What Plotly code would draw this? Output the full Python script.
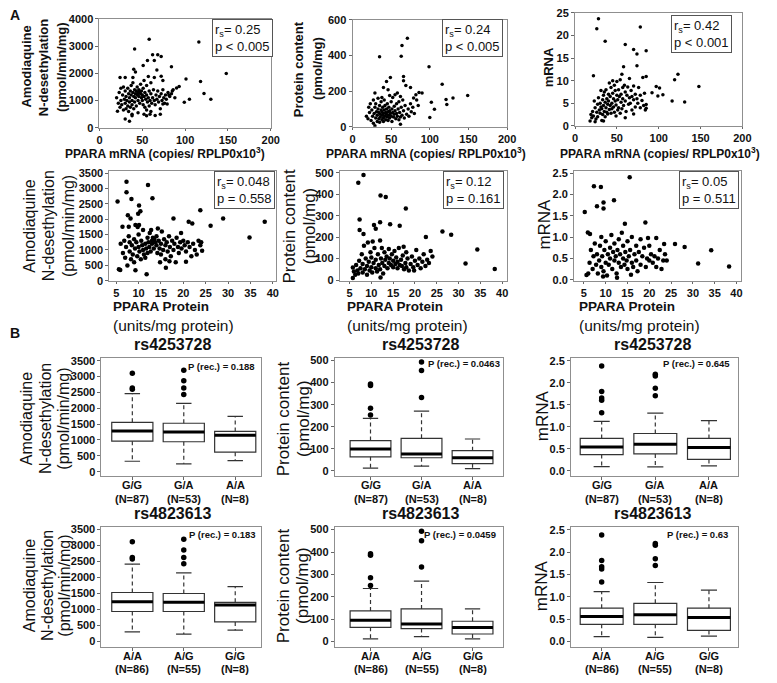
import plotly.graph_objects as go

# ------------------------------------------------------------------ data
# Panel A, row 1: y vs PPARA mRNA (copies/RPLP0 x10^3)
aq_vs_mrna = [(58,3250),(41,2890),(116,3150),(148,1990),(62,2680),(64,2470),(68,2680),(72,2620),(84,2240),(56,2470),
    (51,2290),(67,2120),(40,2150),(42,2050),(39,1850),(24,1850),(30,1850),(57,1880),(64,1850),(72,1890),(74,1740),
    (52,1740),(118,1700),(122,1260),(130,1050),(99,940),(105,1050),(101,1790),(93,1520),(90,1460),(85,1350),(81,1200),
    (79,870),(74,870),(71,500),(21,610),(30,320),(35,240),(38,440),(52,500),(55,440),(59,500),
    (20,1100),(22,900),(23,1300),(24,750),(25,1450),(25,1000),(26,850),(27,1200),(28,650),(28,1500),(29,1050),(30,900),
    (30,1350),(31,700),(31,1150),(32,1000),(33,800),(33,1450),(34,1250),(34,600),(35,1100),(35,950),(36,1350),(36,750),
    (37,1200),(37,1550),(38,1000),(38,850),(39,1300),(39,1650),(40,1150),(40,700),(41,1400),(41,950),(42,1250),(42,1100),
    (43,1350),(43,800),(44,1200),(44,1500),(45,1300),(45,1000),(45,1250),(46,1150),(46,1400),(47,1300),(47,900),(48,1250),
    (48,1600),(49,1100),(49,1350),(50,1000),(50,1200),(51,850),(51,1450),(52,1150),(53,1300),(53,750),(54,1050),(55,1200),
    (55,1550),(56,950),(57,1100),(58,1350),(58,800),(59,1000),(60,1250),(60,1650),(61,900),(62,1100),(63,1400),(64,1000),
    (65,850),(66,1200),(67,1050),(68,1350),(69,950),(70,1150),(71,700),(72,1250),(73,1000),(74,1400),(75,1100),(76,900),
    (77,1200),(78,1050),(80,1300),(82,1150),(84,1250),(86,1400),(88,1100),(60,600),(45,550),(38,500),(65,450),(55,650)]

prot_vs_mrna = [(71,497),(64,456),(63,396),(35,392),(99,337),(116,239),(149,175),(130,162),(121,153),(122,125),(102,138),
    (106,98),(100,52),(86,193),(90,190),(82,180),(79,162),(75,221),(66,282),(66,258),(69,232),(49,276),(44,254),(40,221),
    (46,208),(29,190),(58,190),(62,15),(29,6),
    (18,60),(20,45),(21,110),(22,80),(23,130),(24,35),(25,95),(26,60),(27,150),(27,20),(28,75),(29,110),(30,50),(30,130),
    (31,85),(32,30),(32,65),(33,100),(33,160),(34,45),(34,80),(35,120),(35,25),(36,70),(36,55),(37,95),(37,140),(38,40),
    (38,85),(39,65),(39,110),(40,75),(40,50),(40,30),(41,95),(41,150),(42,60),(42,120),(43,80),(43,40),(44,100),(44,70),
    (45,55),(45,130),(46,85),(46,35),(47,65),(47,110),(48,90),(48,50),(49,75),(50,140),(50,60),(51,100),(51,30),(52,80),
    (52,165),(53,55),(54,115),(54,70),(55,90),(56,45),(57,130),(57,75),(58,60),(59,100),(60,40),(60,140),(61,80),(62,55),
    (63,110),(64,65),(65,150),(66,90),(67,50),(68,120),(70,70),(72,100),(73,60),(75,130),(76,85),(78,110),(80,75),(83,150),
    (85,120),(62,170),(55,180),(48,175),(38,165)]

cyp_mrna_vs_mrna = [(28,23.7),(26,21.5),(78,21.9),(36,18.7),(60,18.0),(70,16.9),(74,15.9),(85,16.6),(74,13.3),(58,13.1),
    (22,11.1),(56,11.4),(123,11.4),(119,10.2),(85,10.9),(81,10.7),(148,8.7),(97,8.7),(101,8.4),(92,7.3),(105,6.9),(99,6.6),
    (116,5.5),(131,5.3),(85,4.7),(85,3.9),(70,2.6),(60,1.8),(18,1.1),(24,0.9),(34,1.1),
    (19,2.5),(20,1.8),(21,3.2),(22,2.2),(23,5.5),(24,4.0),(25,1.5),(26,3.0),(27,4.8),(27,2.0),(28,6.2),(29,3.5),(30,2.8),
    (30,5.0),(31,7.8),(31,4.2),(32,1.2),(32,3.8),(33,5.8),(33,2.5),(34,4.5),(34,6.8),(35,3.2),(35,7.5),(36,2.0),(36,5.2),
    (37,4.0),(37,8.0),(38,3.0),(38,6.0),(39,4.8),(39,2.6),(40,7.0),(40,5.5),(41,3.6),(41,9.5),(42,4.5),(42,6.5),(43,2.8),
    (43,8.5),(44,5.0),(44,3.8),(45,7.2),(45,10.0),(46,4.2),(46,6.0),(47,3.0),(47,9.0),(48,5.5),(48,7.8),(49,2.2),(49,4.6),
    (50,6.8),(50,9.8),(51,3.5),(51,5.8),(52,8.0),(52,4.0),(53,6.5),(54,2.8),(54,10.2),(55,5.2),(55,7.0),(56,3.8),(57,8.5),
    (57,6.0),(58,4.5),(59,9.0),(60,5.5),(60,7.5),(61,3.2),(62,6.8),(63,8.6),(64,4.8),(65,6.2),(65,10.5),(66,5.0),(67,7.8),
    (68,3.5),(68,6.5),(70,5.8),(70,8.8),(72,4.2),(72,7.0),(74,6.0),(75,5.0),(76,8.5),(78,4.0),(78,6.8),(80,5.6),(82,4.5),
    (83,7.2),(84,3.5)]

# Panel A, row 2: y vs PPARA protein (units/mg protein)
aq_vs_protein = [(7.3,3213),(5.3,2575),(7.3,2873),(12.1,3107),(13.1,2681),(8.4,2660),(10.1,2447),(10.4,2256),(9.9,2181),
    (7.6,2128),(8.2,2022),(9.3,1809),(10.1,1809),(6.4,1756),(7.8,1756),(17.8,2022),(21.2,1915),(22.0,1862),(23.8,2288),
    (26.1,1787),(28.9,2022),(31.4,2447),(34.8,1404),(38.2,1915),(5.9,351),(5.6,372),(9.3,340),(11.8,213),(16.1,425),
    (20.6,617),(16.9,638),(24.2,979),
    (6.0,1200),(6.5,900),(6.8,1300),(7.0,750),(7.2,1100),(7.5,500),(7.8,1450),(8.0,950),(8.0,1250),(8.3,700),(8.5,1150),
    (8.7,850),(9.0,1350),(9.0,600),(9.2,1050),(9.5,1250),(9.7,800),(10.0,1500),(10.0,1100),(10.2,950),(10.5,700),
    (10.6,1300),(10.8,1150),(11.0,1000),(11.0,1650),(11.2,850),(11.5,1200),(11.7,1050),(12.0,1400),(12.0,900),(12.2,1250),
    (12.4,1100),(12.5,1550),(12.7,950),(13.0,1300),(13.0,1200),(13.2,1400),(13.4,1050),(13.5,1350),(13.7,1250),(14.0,1150),
    (14.0,1450),(14.2,900),(14.5,1300),(14.7,1050),(15.0,1200),(15.0,850),(15.2,1600),(15.5,1000),(15.7,1350),(16.0,1150),
    (16.0,700),(16.3,1250),(16.5,950),(16.8,1450),(17.0,1100),(17.2,800),(17.5,1300),(17.8,1000),(18.0,1200),(18.3,600),
    (18.5,1400),(18.8,1100),(19.0,900),(19.3,1250),(19.6,1050),(20.0,1300),(20.3,1150),(20.6,950),(21.0,1250),(21.4,1100),
    (21.8,800),(22.2,1200),(22.6,1000),(23.0,850),(23.4,1300),(23.8,1150),(24.0,1250),(14.3,1700),(12.8,1650),(9.8,1750),
    (11.5,750),(14.8,600),(19.5,1550)]

prot_vs_protein = [(8.2,490),(7.0,454),(12.1,395),(13.3,388),(17.9,334),(7.3,283),(10.6,257),(12.0,270),(14.3,260),
    (16.5,254),(7.3,234),(8.2,215),(11.0,239),(26.3,227),(28.3,211),(22.5,201),(34.3,143),(31.6,77),(38.3,51),(5.75,58),
    (5.75,9),(12.1,12),
    (6.0,40),(6.3,25),(6.5,70),(6.8,45),(7.0,30),(7.2,90),(7.5,55),(7.8,120),(8.0,35),(8.0,75),(8.3,160),(8.5,50),(8.7,100),
    (9.0,25),(9.0,65),(9.2,175),(9.4,85),(9.6,45),(9.8,130),(10.0,60),(10.0,105),(10.2,35),(10.5,80),(10.7,150),(11.0,55),
    (11.0,95),(11.3,40),(11.5,120),(11.7,70),(12.0,185),(12.0,50),(12.2,100),(12.5,80),(12.7,30),(13.0,130),(13.0,65),
    (13.2,95),(13.5,110),(13.7,55),(14.0,145),(14.0,80),(14.2,100),(14.5,70),(14.7,120),(15.0,90),(15.0,60),(15.3,135),
    (15.5,75),(15.7,105),(16.0,85),(16.0,55),(16.3,150),(16.5,70),(16.8,95),(17.0,65),(17.2,115),(17.5,50),(17.8,80),
    (18.0,130),(18.0,60),(18.3,100),(18.6,45),(19.0,75),(19.3,110),(19.6,60),(20.0,90),(20.3,140),(20.6,70),(21.0,100),
    (21.3,55),(21.7,85),(22.0,120),(22.4,65),(22.8,95),(23.2,80),(23.6,135),(24.0,110),(10.3,180),(12.4,150),(17.4,155),
    (19.8,45)]

cyp_mrna_vs_protein = [(15.5,2.40),(7.3,2.19),(8.9,2.17),(9.5,1.81),(8.0,1.72),(9.5,1.67),(11.9,1.86),(5.2,1.59),
    (14.4,1.31),(19.1,1.34),(5.9,1.11),(6.4,1.07),(25.9,0.84),(28.1,0.77),(34.2,0.69),(31.2,0.38),(38.3,0.31),(23.4,0.84),
    (21.6,0.98),(19.7,0.98),(5.6,0.11),
    (6.0,0.15),(6.3,0.4),(6.6,0.7),(7.0,0.25),(7.2,0.55),(7.5,0.85),(7.8,0.35),(8.0,0.6),(8.2,0.15),(8.5,0.45),(8.7,0.8),
    (9.0,0.3),(9.0,1.0),(9.2,0.55),(9.5,0.2),(9.7,0.7),(10.0,0.4),(10.0,0.9),(10.3,0.1),(10.5,0.6),(10.7,0.35),(11.0,0.75),
    (11.0,0.5),(11.3,1.05),(11.5,0.25),(11.7,0.65),(12.0,0.45),(12.0,0.85),(12.3,0.55),(12.5,0.15),(12.7,0.7),(13.0,0.4),
    (13.0,0.95),(13.3,0.6),(13.5,0.3),(13.7,1.1),(14.0,0.5),(14.0,0.8),(14.3,0.35),(14.5,0.65),(14.8,0.45),(15.0,0.9),
    (15.0,0.25),(15.3,0.55),(15.6,0.7),(16.0,0.4),(16.0,1.0),(16.3,0.3),(16.6,0.6),(17.0,0.8),(17.0,0.45),(17.3,0.2),
    (17.6,0.65),(18.0,0.35),(18.0,0.95),(18.4,0.55),(18.8,0.75),(19.2,0.3),(19.5,0.5),(20.0,0.45),(20.0,0.8),(20.4,0.6),
    (20.8,0.4),(21.2,0.55),(21.6,0.3),(22.0,0.5),(22.4,0.7),(22.8,0.25),(23.2,0.45),(23.6,0.6),(24.0,0.45),(12.6,0.05),
    (9.4,0.08),(15.8,0.12)]

stats_row1 = [("0.25", "p < 0.005"), ("0.24", "p < 0.005"), ("0.42", "p < 0.001")]
stats_row2 = [("0.048", "p = 0.558"), ("0.12", "p = 0.161"), ("0.05", "p = 0.511")]

# Panel B: genotype box plots (q1, median, q3, lower whisker, upper whisker, outliers)
rs1_name = "rs4253728"
rs1_genotypes = ["G/G", "G/A", "A/A"]
rs1_counts = ["(N=87)", "(N=53)", "(N=8)"]
rs2_name = "rs4823613"
rs2_genotypes = ["A/A", "A/G", "G/G"]
rs2_counts = ["(N=86)", "(N=55)", "(N=8)"]

aq_rs1 = dict(q1=[963, 943, 615], med=[1281, 1250, 1148], q3=[1557, 1527, 1270],
              lo=[328, 246, 348], hi=[2459, 2152, 1742],
              out=[[3100, 2640, 2600], [3200, 2870, 2640, 2430], []])
prot_rs1 = dict(q1=[63, 59, 32], med=[99, 76, 59], q3=[137, 147, 91],
                lo=[12, 21, 10], hi=[238, 271, 144],
                out=[[394, 387, 284, 253], [493, 455, 332], []])
mrna_rs1 = dict(q1=[0.368, 0.382, 0.257], med=[0.537, 0.603, 0.53], q3=[0.735, 0.846, 0.735],
                lo=[0.096, 0.088, 0.11], hi=[1.12, 1.31, 1.14],
                out=[[2.38, 1.80, 1.65, 1.60, 1.32], [2.19, 2.15, 1.875, 1.706], []])
aq_rs2 = dict(q1=[941, 941, 614], med=[1248, 1228, 1146], q3=[1535, 1504, 1228],
              lo=[307, 235, 358], hi=[2425, 2149, 1719],
              out=[[3118, 2627, 2580], [3200, 2865, 2627, 2433], []])
prot_rs2 = dict(q1=[64, 58, 34], med=[95, 79, 63], q3=[137, 146, 91],
                lo=[12, 22, 12], hi=[237, 270, 146],
                out=[[392, 385, 285, 251], [493, 450, 333], []])
mrna_rs2 = dict(q1=[0.387, 0.387, 0.249], med=[0.563, 0.599, 0.541], q3=[0.746, 0.855, 0.746],
                lo=[0.11, 0.095, 0.124], hi=[1.118, 1.32, 1.15],
                out=[[2.38, 1.81, 1.67, 1.62, 1.33], [2.19, 2.15, 1.85, 1.70], []])
p_rec = ["P (rec.) = 0.188", "P (rec.) = 0.0463", "P (rec.) = 0.645",
         "P (rec.) = 0.183", "P (rec.) = 0.0459", "P (rec.) = 0.63"]

# ------------------------------------------------------------------ layout helpers
W, H = 777, 683
FONT = "Liberation Sans, Arial, Helvetica, sans-serif"
INK = "#111111"
FRAME = "#8f8f8f"
BOXLINE = "#333333"


def fx(p):
    return p / W


def fy(p):
    return 1 - p / H


def aid(i):
    return "" if i == 1 else str(i)


fig = go.Figure()
layout = dict(width=W, height=H, margin=dict(l=0, r=0, t=0, b=0), paper_bgcolor="white",
              plot_bgcolor="white", showlegend=False, font=dict(family=FONT, color=INK))
annotations = []


def setup(i, xpx, ypx, xr, yr, xtv, ytv, ytfmt=None, tsize=11, xlabels=True, xticklen=3):
    a = aid(i)
    tf = dict(size=tsize, family=FONT, color=INK, weight="bold")
    layout["xaxis" + a] = dict(domain=[fx(xpx[0]), fx(xpx[1])], range=xr, anchor="y" + a,
                               showline=True, mirror=True, linecolor=FRAME, linewidth=1,
                               ticks="outside", ticklen=xticklen, tickcolor="#666", tickvals=xtv,
                               showticklabels=xlabels, showgrid=False, zeroline=False, tickfont=tf)
    layout["yaxis" + a] = dict(domain=[fy(ypx[1]), fy(ypx[0])], range=yr, anchor="x" + a,
                               showline=True, mirror=True, linecolor=FRAME, linewidth=1,
                               ticks="outside", ticklen=3, tickcolor="#666", tickvals=ytv,
                               tickformat=ytfmt, showgrid=False, zeroline=False, tickfont=tf)


def scatter(i, pts, size):
    a = aid(i)
    xs = [p[0] for p in pts]
    ys = [p[1] for p in pts]
    fig.add_trace(go.Scatter(x=xs, y=ys, mode="markers", xaxis="x" + a, yaxis="y" + a,
                             marker=dict(color="black", size=size, line=dict(width=0))))


def boxes(i, d):
    a = aid(i)
    g = [1, 2, 3]
    fig.add_trace(go.Box(x=g, q1=d["q1"], median=d["med"], q3=d["q3"], lowerfence=d["q1"],
                         upperfence=d["q3"], width=0.8, whiskerwidth=0, boxpoints=False,
                         fillcolor="white", line=dict(color=BOXLINE, width=1.2),
                         xaxis="x" + a, yaxis="y" + a))
    mx, my, wx, wy, cx, cy = [], [], [], [], [], []
    for k in range(3):
        mx += [g[k] - 0.4, g[k] + 0.4, None]
        my += [d["med"][k], d["med"][k], None]
        wx += [g[k], g[k], None, g[k], g[k], None]
        wy += [d["q3"][k], d["hi"][k], None, d["q1"][k], d["lo"][k], None]
        cx += [g[k] - 0.15, g[k] + 0.15, None, g[k] - 0.15, g[k] + 0.15, None]
        cy += [d["hi"][k], d["hi"][k], None, d["lo"][k], d["lo"][k], None]
    fig.add_trace(go.Scatter(x=wx, y=wy, mode="lines", line=dict(color=BOXLINE, width=1.2, dash="4px,3px"),
                             xaxis="x" + a, yaxis="y" + a))
    fig.add_trace(go.Scatter(x=cx, y=cy, mode="lines", line=dict(color=BOXLINE, width=1.2),
                             xaxis="x" + a, yaxis="y" + a))
    fig.add_trace(go.Scatter(x=mx, y=my, mode="lines", line=dict(color="black", width=3),
                             xaxis="x" + a, yaxis="y" + a))
    ox, oy = [], []
    for k in range(3):
        for v in d["out"][k]:
            ox.append(g[k])
            oy.append(v)
    fig.add_trace(go.Scatter(x=ox, y=oy, mode="markers", marker=dict(color="black", size=5.5),
                             xaxis="x" + a, yaxis="y" + a))


def text(x, y, s, size, bold=False, angle=0, xanchor="center", yanchor="middle", **kw):
    annotations.append(dict(x=fx(x), y=fy(y), xref="paper", yref="paper", text=s, showarrow=False,
                            textangle=angle, xanchor=xanchor, yanchor=yanchor,
                            font=dict(size=size, family=FONT, color=INK, weight="bold" if bold else "normal"),
                            **kw))


def vtitle(xs, yc, lines, size, bold=False):
    for x, s in zip(xs, lines):
        text(x, yc, s, size, bold=bold, angle=-90)


def cat_labels(i, genotypes, counts, y1, y2):
    a = aid(i)
    for k, (gname, n) in enumerate(zip(genotypes, counts)):
        for yy, s in ((y1, gname), (y2, n)):
            annotations.append(dict(x=k + 1, y=fy(yy), xref="x" + a, yref="paper", text=s,
                                    showarrow=False, xanchor="center", yanchor="middle",
                                    font=dict(size=11, family=FONT, color=INK, weight="bold")))


# ------------------------------------------------------------------ row 1 (A)
mrna_ticks = [0, 50, 100, 150, 200]
setup(1, (98, 272), (13, 124), [0, 200], [0, 4000], mrna_ticks, [0, 1000, 2000, 3000, 4000], xticklen=2)
setup(2, (355, 512), (14, 123), [0, 200], [0, 600], mrna_ticks, [0, 200, 400, 600], xticklen=2)
setup(3, (581, 751), (7, 122), [0, 200], [0, 25], mrna_ticks, [0, 5, 10, 15, 20, 25], xticklen=2)
scatter(1, aq_vs_mrna, 3.5)
scatter(2, prot_vs_mrna, 3.5)
scatter(3, cyp_mrna_vs_mrna, 3.5)

# ------------------------------------------------------------------ row 2 (A)
prot_ticks = [5, 10, 15, 20, 25, 30, 35, 40]
setup(4, (108, 277), (168, 280), [3.46, 40.66], [0 - 0.0, 3564], prot_ticks, list(range(0, 3501, 500)), xticklen=2)
layout["yaxis4"]["range"] = [-10, 3564]
setup(5, (342, 512), (168, 280), [2.74, 41.13], [-5, 509], prot_ticks, [0, 100, 200, 300, 400, 500], xticklen=2)
setup(6, (580, 750), (168, 280), [2.74, 41.13], [-0.03, 2.546], prot_ticks,
      [0, 0.5, 1.0, 1.5, 2.0, 2.5], ytfmt=".1f", xticklen=2)
scatter(4, aq_vs_protein, 4.5)
scatter(5, prot_vs_protein, 4.5)
scatter(6, cyp_mrna_vs_protein, 4.5)

# ------------------------------------------------------------------ rows 3-4 (B)
setup(7, (100, 262), (358, 478), [0.4, 3.5], [-124, 3593], [1, 2, 3], list(range(0, 3501, 500)), xlabels=False)
setup(8, (337, 508), (358, 478), [0.3, 3.6], [-22, 513], [1, 2, 3], [0, 100, 200, 300, 400, 500], xlabels=False)
setup(9, (577, 747), (358, 478), [0.43, 3.55], [-0.11, 2.567], [1, 2, 3], [0, 0.5, 1.0, 1.5, 2.0, 2.5],
      ytfmt=".1f", xlabels=False)
setup(10, (100, 262), (530, 652), [0.4, 3.5], [-154, 3592], [1, 2, 3], list(range(0, 3501, 500)), xlabels=False)
setup(11, (337, 508), (530, 652), [0.3, 3.6], [-22, 513], [1, 2, 3], [0, 100, 200, 300, 400, 500], xlabels=False)
setup(12, (577, 747), (530, 652), [0.43, 3.55], [-0.11, 2.566], [1, 2, 3], [0, 0.5, 1.0, 1.5, 2.0, 2.5],
      ytfmt=".1f", xlabels=False)
boxes(7, aq_rs1)
boxes(8, prot_rs1)
boxes(9, mrna_rs1)
boxes(10, aq_rs2)
boxes(11, prot_rs2)
boxes(12, mrna_rs2)
for i in (7, 8, 9):
    cat_labels(i, rs1_genotypes, rs1_counts, 488, 502)
for i in (10, 11, 12):
    cat_labels(i, rs2_genotypes, rs2_counts, 662, 675)

# ------------------------------------------------------------------ text
AQ_LINES = ["Amodiaquine", "N-desethylation", "(pmol/min/mg)"]
PC_LINES = ["Protein content", "(pmol/mg)"]
text(12, 9, "A", 14, bold=True)
text(12, 333, "B", 14, bold=True)

# row 1 axis titles
vtitle([24, 42, 60], 62, AQ_LINES, 13, bold=True)
vtitle([301, 320], 64, PC_LINES, 13, bold=True)
vtitle([554], 62, ["mRNA"], 13, bold=True)
XT1 = "PPARA mRNA (copies/ RPLP0x10<sup>3</sup>)"
text(165, 150, XT1, 12, bold=True)
text(430, 150, XT1, 12, bold=True)
text(667, 150, XT1, 12, bold=True)

# row 2 axis titles
vtitle([26, 46, 66], 224, AQ_LINES, 16)
vtitle([291, 311], 224, PC_LINES, 17)
vtitle([550], 222, ["mRNA"], 17)
for x0 in (110, 347, 583):
    text(x0, 306, "PPARA Protein", 13.5, bold=True, xanchor="left")
    text(x0, 325, "(units/mg protein)", 15.5, xanchor="left")

# stat boxes
for (r, p), (xr, yt) in zip(stats_row1, [(274, 13), (508, 13), (740, 9)]):
    text(xr, yt, "r<sub>s</sub>= " + r + "<br>" + p, 13, xanchor="right", yanchor="top",
         align="left", bordercolor="#555", borderwidth=1, borderpad=2, bgcolor="white")
for (r, p), (xr, yt) in zip(stats_row2, [(276, 168), (509, 168), (748, 168)]):
    text(xr, yt, "r<sub>s</sub>= " + r + "<br>" + p, 13, xanchor="right", yanchor="top",
         align="left", bordercolor="#555", borderwidth=1, borderpad=2, bgcolor="white")

# B titles and p values
for cx in (173, 425, 660):
    text(cx, 345, rs1_name, 16, bold=True)
    text(cx, 517, rs2_name, 16, bold=True)
for s, (xr, yc) in zip(p_rec, [(258, 367), (507, 364), (740, 364), (259, 538), (503, 538), (738, 538)]):
    text(xr, yc, s, 9.5, bold=True, xanchor="right")

# box-plot y titles
vtitle([24, 43, 62], 420, AQ_LINES, 16)
vtitle([285, 305], 420, PC_LINES, 17)
vtitle([548], 417, ["mRNA"], 17)
vtitle([27, 45, 63], 590, AQ_LINES, 16)
vtitle([285, 304], 590, PC_LINES, 17)
vtitle([547], 590, ["mRNA"], 17)

layout["annotations"] = annotations
fig.update_layout(**layout)
fig.write_html("out.html", config={"displayModeBar": False},
               post_script="document.body.style.margin='0px';document.body.style.padding='0px';")
